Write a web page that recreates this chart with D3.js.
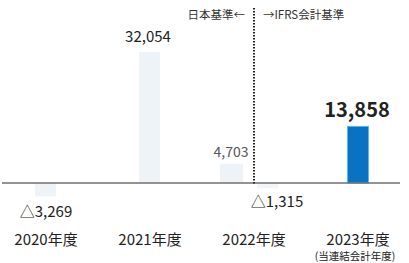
<!DOCTYPE html>
<html>
<head>
<meta charset="utf-8">
<script src="https://cdn.jsdelivr.net/npm/d3@7"></script>
<style>
  body { margin: 0; background: #fff; }
  svg { display: block; font-family: "Noto Sans CJK JP", "Noto Sans", sans-serif; }
</style>
</head>
<body>
<svg id="chart" width="409" height="263"></svg>
<script>
// data
const years = ["2020年度", "2021年度", "2022年度", "2023年度"];
const jgaapValues = [-3269, 32054, 4703, null];
const ifrsValues = [null, null, -1315, 13858];
const valueLabels = ["△3,269", "32,054", "4,703", "△1,315", "13,858"];

const svg = d3.select("#chart");
const axisY = 183;

const x = d3.scaleBand().domain(years).range([-6, 410]).padding(0);
const y = d3.scaleLinear().domain([0, 32054]).range([axisY, 52]);
const barW = 21;
const cx = d => x(d) + x.bandwidth() / 2;

// offset of the bar inside its slot (2022 has both standards side by side)
function barX(i, std) {
  if (i === 2) return cx(years[i]) + (std === "jp" ? -34 : 3);
  return cx(years[i]) - barW / 2 + (i === 3 ? 0 : -0.5);
}

const jpData = years.map((c, i) => ({ c, i, v: jgaapValues[i] })).filter(d => d.v != null);
const ifrsData = years.map((c, i) => ({ c, i, v: ifrsValues[i] })).filter(d => d.v != null);

svg.selectAll(".jp")
  .data(jpData)
  .join("rect")
  .attr("class", "jp")
  .attr("x", d => barX(d.i, "jp"))
  .attr("width", d => d.i === 2 ? 23 : barW)
  .attr("y", d => Math.min(y(d.v), y(0)))
  .attr("height", d => Math.abs(y(d.v) - y(0)))
  .attr("fill", "#edf3f7");

svg.selectAll(".ifrs")
  .data(ifrsData)
  .join("rect")
  .attr("class", "ifrs")
  .attr("x", d => barX(d.i, "ifrs"))
  .attr("width", barW)
  .attr("y", d => Math.min(y(d.v), y(0)))
  .attr("height", d => Math.abs(y(d.v) - y(0)))
  .attr("fill", d => d.v > 0 ? "#0a72c2" : "#f3f6f8")
  .attr("stroke", d => d.v > 0 ? "#5cb6ee" : "none")
  .attr("stroke-width", 1);

// baseline
svg.append("line")
  .attr("x1", 2).attr("x2", 400)
  .attr("y1", axisY).attr("y2", axisY)
  .attr("stroke", "#6f6f6f")
  .attr("stroke-width", 1.6);

// standard change divider
const divX = cx(years[2]);
svg.append("line")
  .attr("x1", divX).attr("x2", divX)
  .attr("y1", 8).attr("y2", axisY + 1)
  .attr("stroke", "#222")
  .attr("stroke-width", 2)
  .attr("stroke-dasharray", "1.5,1.5");

svg.append("text")
  .attr("x", divX - 9).attr("y", 19)
  .attr("text-anchor", "end")
  .attr("font-size", 11.5)
  .attr("fill", "#333")
  .text("日本基準←");

svg.append("text")
  .attr("x", divX + 9).attr("y", 19)
  .attr("font-size", 11.5)
  .attr("fill", "#333")
  .text("→IFRS会計基準");

// value labels
const lab = [
  { t: valueLabels[0], x: 46, y: 217, s: 15, w: "normal" },
  { t: valueLabels[1], x: 148, y: 42, s: 15, w: "normal" },
  { t: valueLabels[2], x: 231, y: 157, s: 14, w: "normal", c: "#555" },
  { t: valueLabels[3], x: 277, y: 207, s: 15, w: "normal" },
  { t: valueLabels[4], x: 357, y: 117, s: 20, w: "bold" }
];
svg.selectAll(".val")
  .data(lab)
  .join("text")
  .attr("class", "val")
  .attr("x", d => d.x)
  .attr("y", d => d.y)
  .attr("text-anchor", "middle")
  .attr("font-size", d => d.s)
  .attr("font-weight", d => d.w)
  .attr("fill", d => d.c || "#222")
  .text(d => d.t);

// category labels
svg.selectAll(".cat")
  .data(years)
  .join("text")
  .attr("class", "cat")
  .attr("x", d => cx(d))
  .attr("y", 245)
  .attr("text-anchor", "middle")
  .attr("font-size", 15)
  .attr("fill", "#222")
  .text(d => d);

svg.append("text")
  .attr("x", 355).attr("y", 259.5)
  .attr("text-anchor", "middle")
  .attr("font-size", 10.5)
  .attr("fill", "#222")
  .text("(当連結会計年度)");
</script>
</body>
</html>
